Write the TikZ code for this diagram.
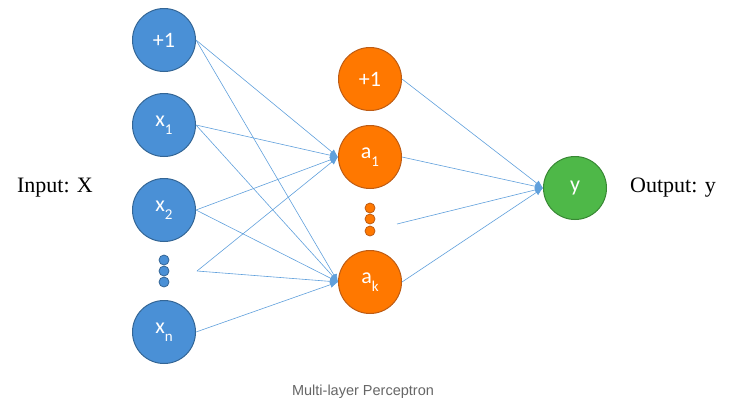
\documentclass[tikz,border=0pt]{standalone}
\usepackage{fontspec}
\setmainfont{Liberation Serif}
\newfontfamily\unitfont{Carlito}
\newfontfamily\capfont{Liberation Sans}
\usetikzlibrary{arrows.meta}
\definecolor{inblue}{RGB}{74,144,214}
\definecolor{inborder}{RGB}{52,102,150}
\definecolor{hidorange}{RGB}{255,120,0}
\definecolor{hidborder}{RGB}{190,92,20}
\definecolor{outgreen}{RGB}{78,184,72}
\definecolor{outborder}{RGB}{56,136,52}
\definecolor{linkblue}{RGB}{96,160,220}
\newcommand{\lowidx}[2]{#1\raisebox{-0.35em}{\fontsize{15}{15}\selectfont #2}}

\begin{document}
\begin{tikzpicture}[x=1pt,y=-1pt,
  unit/.style={circle,line width=1pt,minimum size=63pt,inner sep=0pt,
    text=white,font=\unitfont\fontsize{22}{22}\selectfont},
  inunit/.style={unit,fill=inblue,draw=inborder},
  hidunit/.style={unit,fill=hidorange,draw=hidborder},
  outunit/.style={unit,fill=outgreen,draw=outborder},
  dotunit/.style={circle,line width=0.8pt,minimum size=10pt,inner sep=0pt},
  link/.style={draw=linkblue,line width=0.6pt,-{Latex[length=8pt,width=6.5pt]}}]
\useasboundingbox (0,0) rectangle (751,413);
% input layer
\node[inunit] (b1) at (164,40) {+1};
\node[inunit] (x1) at (164,125) {\lowidx{x}{1}};
\node[inunit] (x2) at (164,210) {\lowidx{x}{2}};
\node[inunit] (xn) at (164,332) {\lowidx{x}{n}};
\foreach \i/\y in {1/260,2/271,3/282}
  \node[dotunit,fill=inblue,draw=inborder] (xd\i) at (164,\y) {};
\coordinate (xdots) at (197,271);
% hidden layer
\node[hidunit] (b2) at (370,79) {+1};
\node[hidunit] (a1) at (370,157) {\lowidx{a}{1}};
\node[hidunit] (ak) at (370,282) {\lowidx{a}{k}};
\foreach \i/\y in {1/208,2/219,3/231}
  \node[dotunit,fill=hidorange,draw=hidborder] (ad\i) at (370,\y) {};
\coordinate (adots) at (397,224);
% output layer
\node[outunit] (y) at (575,188) {y};
% connections
\foreach \s in {b1.east,x1.east,x2.east,xdots}
  \draw[link] (\s) -- (a1.west);
\foreach \s in {b1.east,x1.east,x2.east,xdots,xn.east}
  \draw[link] (\s) -- (ak.west);
\foreach \s in {b2.east,a1.east,adots,ak.east}
  \draw[link] (\s) -- (y.west);
% labels
\node[font=\fontsize{22}{22}\selectfont] (inlabel) at (55,188) {Input: X};
\node[font=\fontsize{22}{22}\selectfont] (outlabel) at (673,188) {Output: y};
\node[font=\capfont\fontsize{14.5}{14.5}\selectfont,text=black!60] (caption) at (363,392) {Multi-layer Perceptron};
\end{tikzpicture}
\end{document}
